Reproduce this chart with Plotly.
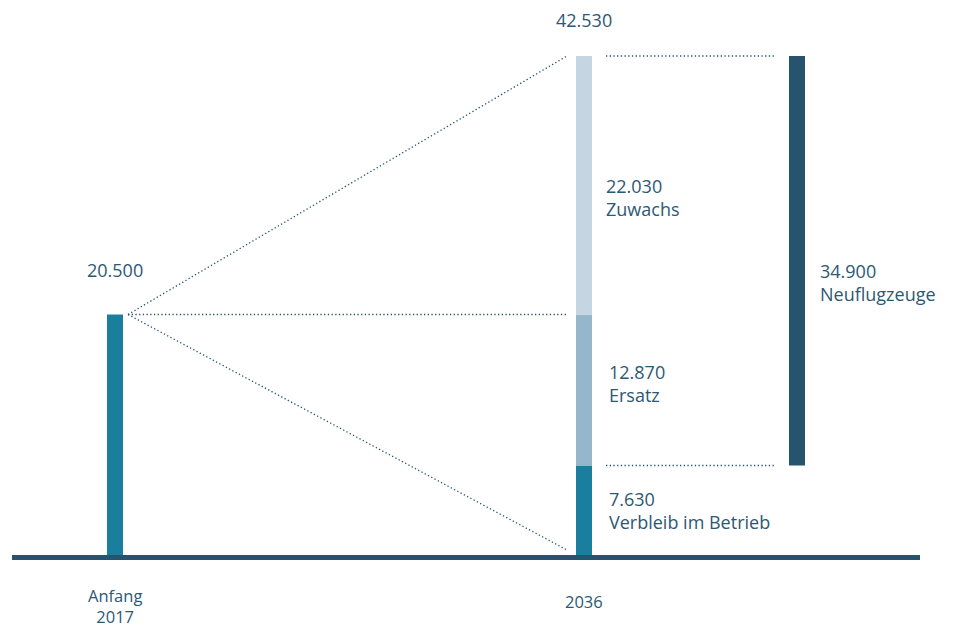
import plotly.graph_objects as go

# ---- data ----
start_label = "Anfang<br>2017"
end_label = "2036"
start_total = 20500
segments = ["Verbleib im Betrieb", "Ersatz", "Zuwachs"]
segment_values = [7630, 12870, 22030]
new_label = "Neuflugzeuge"
new_value = 34900

# ---- styling / layout constants (page body has an 8px margin) ----
OFF = 8
W, H = 954 - OFF, 627 - OFF
BASE_PX, TOP_PX = 555 - OFF, 56 - OFF
FONT = "Open Sans"
TXT = "#2d5873"
DARK = "#26546f"
TEAL = "#1a7f9f"
seg_colors = [TEAL, "#96b6cb", "#c5d6e2"]
X_START, X_END, X_NEW = 115 - OFF, 584 - OFF, 797 - OFF
BW = 16

total_end = sum(segment_values)
units_per_px = total_end / (BASE_PX - TOP_PX)
y_top = BASE_PX * units_per_px
y_bot = -(H - BASE_PX) * units_per_px

def fmt(v):
    return f"{v:,}".replace(",", ".")

fig = go.Figure()

# start bar
fig.add_trace(go.Bar(x=[X_START], y=[start_total], base=[0], width=[BW],
                     marker=dict(color=TEAL, line=dict(width=0)), hoverinfo="skip"))
# stacked 2036 bar
bases = []
acc = 0
for v in segment_values:
    bases.append(acc)
    acc += v
for v, b, c in zip(segment_values, bases, seg_colors):
    fig.add_trace(go.Bar(x=[X_END], y=[v], base=[b], width=[BW],
                         marker=dict(color=c, line=dict(width=0)), hoverinfo="skip"))
# new aircraft bar
new_base = total_end - new_value
fig.add_trace(go.Bar(x=[X_NEW], y=[new_value], base=[new_base], width=[BW],
                     marker=dict(color=DARK, line=dict(width=0)), hoverinfo="skip"))

dot = dict(color=DARK, width=1.3, dash="1.3px,2.4px")
# fan lines from start bar top
x0 = X_START + BW / 2 + 5
x1 = X_END - BW / 2 - 9
for lvl in [total_end, start_total, 0]:
    fig.add_trace(go.Scatter(x=[x0, x1], y=[start_total, lvl + (0 if lvl else 5 * units_per_px)],
                             mode="lines", line=dot, hoverinfo="skip"))
# horizontal dotted lines to new bar
hx0 = X_END + BW / 2 + 14
hx1 = X_NEW - BW / 2 - 15
for lvl in [total_end, new_base]:
    fig.add_trace(go.Scatter(x=[hx0, hx1], y=[lvl, lvl], mode="lines", line=dot, hoverinfo="skip"))

# baseline
fig.add_shape(type="line", xref="x", yref="y", x0=12 - OFF, x1=920 - OFF,
              y0=-2.5 * units_per_px, y1=-2.5 * units_per_px,
              line=dict(color=DARK, width=5))

ann = []
f = dict(family=FONT, size=18, color=TXT)

def label(x, y, text, shift, anchor="left", font=f):
    ann.append(dict(x=x, y=y, text=text, showarrow=False, xanchor=anchor,
                    yanchor="middle", yshift=shift, borderpad=0, align=anchor,
                    font=font))

# totals
label(X_START, start_total, fmt(start_total), 44, "center")
label(X_END, total_end, fmt(total_end), 36, "center")
# segment labels
seg_dx = [16, 16, 13]
seg_sh = [0, 6, -12]
for name, v, b, dx, sh in zip(segments, segment_values, bases, seg_dx, seg_sh):
    label(X_END + BW / 2 + dx, b + v / 2, f"{fmt(v)}<br>{name}", sh)
label(X_NEW + BW / 2 + 14, new_base + new_value / 2,
      f"{fmt(new_value)}<br>{new_label}", -22)
# category labels
fc = dict(family=FONT, size=16.5, color=TXT)
label(X_START, 0, start_label, -51, "center", fc)
label(X_END, 0, end_label, -46, "center", fc)

fig.update_layout(
    width=W, height=H, margin=dict(l=0, r=0, t=0, b=0),
    paper_bgcolor="white", plot_bgcolor="white",
    showlegend=False, barmode="overlay",
    xaxis=dict(range=[0, W], visible=False, fixedrange=True),
    yaxis=dict(range=[y_bot, y_top], visible=False, fixedrange=True),
    annotations=ann,
)
fig.write_html("out.html")
